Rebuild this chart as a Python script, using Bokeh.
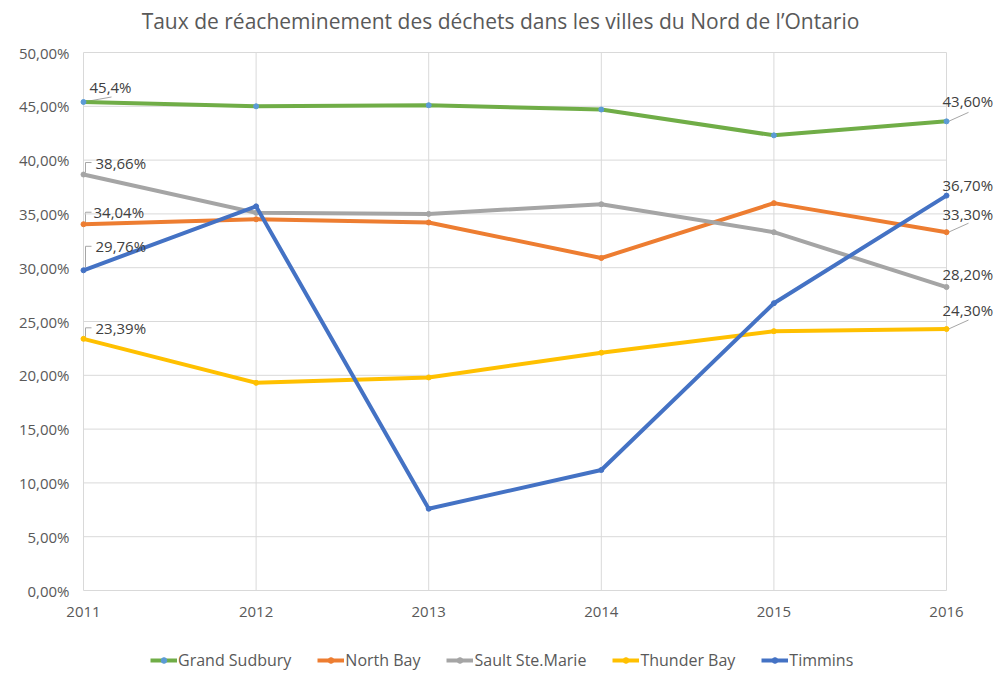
from bokeh.plotting import figure
from bokeh.models import (Range1d, Legend, LegendItem, ColumnDataSource, LabelSet, Label)
from bokeh.core.properties import value
from bokeh.embed import file_html
from bokeh.resources import INLINE

years = [2011, 2012, 2013, 2014, 2015, 2016]
grand_sudbury = [45.4, 45.0, 45.1, 44.7, 42.3, 43.6]
north_bay = [34.04, 34.5, 34.2, 30.9, 36.0, 33.3]
sault_ste_marie = [38.66, 35.1, 35.0, 35.9, 33.3, 28.2]
thunder_bay = [23.39, 19.3, 19.8, 22.1, 24.1, 24.3]
timmins = [29.76, 35.7, 7.6, 11.2, 26.7, 36.7]

series_names = ["Grand Sudbury", "North Bay", "Sault Ste.Marie", "Thunder Bay", "Timmins"]
series_values = [grand_sudbury, north_bay, sault_ste_marie, thunder_bay, timmins]
colors = ["#70ad47", "#ed7d31", "#a5a5a5", "#ffc000", "#4472c4"]
marker_colors = ["#5b9bd5", "#ed7d31", "#a5a5a5", "#ffc000", "#4472c4"]

y_ticks = [0, 5, 10, 15, 20, 25, 30, 35, 40, 45, 50]
y_tick_labels = ["0,00%", "5,00%", "10,00%", "15,00%", "20,00%", "25,00%",
                 "30,00%", "35,00%", "40,00%", "45,00%", "50,00%"]
x_tick_labels = ["2011", "2012", "2013", "2014", "2015", "2016"]

first_labels = ["45,4%", "34,04%", "38,66%", "23,39%", "29,76%"]
last_labels = ["43,60%", "33,30%", "28,20%", "24,30%", "36,70%"]

TITLE = "Taux de réacheminement des déchets dans les villes du Nord de l\u2019Ontario"
FONT = "Open Sans"
GRAY = "#595959"
FS = "15px"

# layout: plot area 2011..2016 spans px 83..946, 0..50 spans px 590..52
PX_X = 5.0 / 863.0
PX_Y = 50.0 / 538.0
x_start = years[0] - 83 * PX_X
x_end = years[-1] + 54 * PX_X
y_start = -93 * PX_Y
y_end = y_ticks[-1] + 52 * PX_Y

p = figure(width=1000, height=683, output_backend="svg", toolbar_location=None,
           x_range=Range1d(x_start, x_end), y_range=Range1d(y_start, y_end),
           x_axis_location=None, y_axis_location=None,
           min_border_left=0, min_border_right=0, min_border_top=0, min_border_bottom=0)
p.outline_line_color = None
p.background_fill_color = "white"
p.border_fill_color = "white"
p.grid.visible = False

p.add_layout(Label(x=500, y=663, x_units="screen", y_units="screen", text=TITLE,
                   text_font=FONT, text_font_size="21px", text_color=GRAY,
                   text_align="center", text_baseline="middle"))

# gridlines
p.segment(x0=[years[0]] * len(y_ticks), x1=[years[-1]] * len(y_ticks), y0=y_ticks, y1=y_ticks,
          line_color="#d9d9d9", line_width=1)
p.segment(x0=years, x1=years, y0=[y_ticks[0]] * len(years), y1=[y_ticks[-1]] * len(years),
          line_color="#d9d9d9", line_width=1)

# tick labels
xl_src = ColumnDataSource(dict(x=years, y=[0] * len(years), t=x_tick_labels))
p.add_layout(LabelSet(x="x", y="y", text="t", source=xl_src, y_offset=-21,
                      text_font=value(FONT), text_font_size=value(FS), text_color=GRAY,
                      text_align="center", text_baseline="middle"))
yl_src = ColumnDataSource(dict(x=[years[0]] * len(y_ticks), y=y_ticks, t=y_tick_labels))
p.add_layout(LabelSet(x="x", y="y", text="t", source=yl_src, x_offset=-14,
                      text_font=value(FONT), text_font_size=value(FS), text_color=GRAY,
                      text_align="right", text_baseline="middle"))

items = []
for name, vals, c, mc in zip(series_names, series_values, colors, marker_colors):
    src = ColumnDataSource(dict(x=years, y=vals))
    l = p.line("x", "y", source=src, line_color=c, line_width=4)
    m = p.scatter("x", "y", source=src, size=5, fill_color=mc, line_color=mc)
    items.append(LegendItem(label=name, renderers=[l, m]))

legend = Legend(items=items, orientation="horizontal", location=(150, 12),
                label_text_font=FONT, label_text_font_size="16px", label_text_color=GRAY,
                glyph_width=27, glyph_height=14, label_standoff=1, spacing=26,
                border_line_color=None, background_fill_alpha=0, margin=0, padding=0)
p.add_layout(legend, "center")

# data label offsets (pixels)
first_off = {"45,4%": (6, 15), "34,04%": (10, 12), "38,66%": (12, 12), "23,39%": (12, 11), "29,76%": (12, 24)}
last_off = {"43,60%": (-4, 20), "33,30%": (-4, 18), "28,20%": (-4, 13), "24,30%": (-4, 19), "36,70%": (-4, 11)}

lx, ly, lt, lxo, lyo = [], [], [], [], []
seg_xs, seg_ys = [], []
for vals, fl, ll in zip(series_values, first_labels, last_labels):
    dx, dy = first_off[fl]
    lx.append(years[0]); ly.append(vals[0]); lt.append(fl); lxo.append(dx); lyo.append(dy)
    if fl == "45,4%":
        seg_xs.append([years[0], years[0] + 28 * PX_X]); seg_ys.append([vals[0], vals[0] + 5 * PX_Y])
    else:
        seg_xs.append([years[0] + 2 * PX_X, years[0] + 2 * PX_X, years[0] + 8 * PX_X])
        seg_ys.append([vals[0] + 2 * PX_Y, vals[0] + dy * PX_Y, vals[0] + dy * PX_Y])
    dx, dy = last_off[ll]
    lx.append(years[-1]); ly.append(vals[-1]); lt.append(ll); lxo.append(dx); lyo.append(dy)
    if ll in ("43,60%", "33,30%", "24,30%"):
        seg_xs.append([years[-1] + 2 * PX_X, years[-1] + 22 * PX_X])
        seg_ys.append([vals[-1], vals[-1] + 9 * PX_Y])

p.multi_line(seg_xs, seg_ys, line_color="#a6a6a6", line_width=1, level="underlay")

lab_src = ColumnDataSource(dict(x=lx, y=ly, t=lt, xo=lxo, yo=lyo))
labels = LabelSet(x="x", y="y", text="t", x_offset="xo", y_offset="yo", source=lab_src,
                  text_font=value(FONT), text_font_size=value(FS), text_color="#404040",
                  text_baseline="middle", text_align="left")
p.add_layout(labels)

open("out.html", "w").write(file_html(p, INLINE))
